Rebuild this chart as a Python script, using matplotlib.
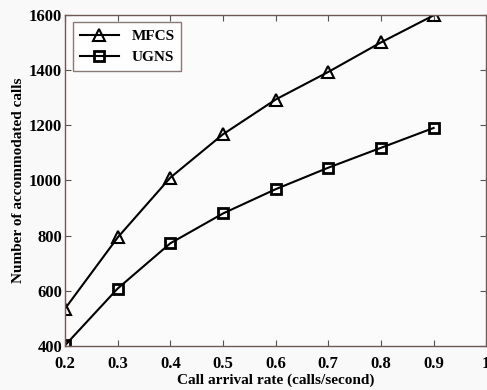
import matplotlib
matplotlib.use('Agg')
import matplotlib.pyplot as plt

# data
rate = [0.2, 0.3, 0.4, 0.5, 0.6, 0.7, 0.8, 0.9]
mfcs = [535, 793, 1010, 1167, 1293, 1393, 1500, 1598]
ugns = [402, 608, 772, 880, 968, 1046, 1118, 1190]

plt.rcParams['font.family'] = ['Liberation Serif', 'DejaVu Serif']
plt.rcParams['font.weight'] = 'bold'

fig = plt.figure(figsize=(4.87, 3.9), dpi=100)
fig.patch.set_facecolor('#f9f9f9')
ax = fig.add_axes([0.1335, 0.113, 0.865, 0.849])
ax.set_facecolor('#fbfbfb')

ax.plot(rate, mfcs, color='k', lw=1.5, marker='^', markersize=9,
        markerfacecolor='none', markeredgewidth=1.5, label='MFCS')
ax.plot(rate, ugns, color='k', lw=1.5, marker='s', markersize=7,
        markerfacecolor='none', markeredgewidth=2, label='UGNS')

ax.set_xlim(0.2, 1)
ax.set_ylim(400, 1600)
ax.set_xticks([0.2, 0.3, 0.4, 0.5, 0.6, 0.7, 0.8, 0.9, 1])
ax.set_xticklabels(['0.2', '0.3', '0.4', '0.5', '0.6', '0.7', '0.8', '0.9', '1'])
ax.set_yticks([400, 600, 800, 1000, 1200, 1400, 1600])
ax.tick_params(direction='in', top=True, right=True, labelsize=12, length=4, color='#555555')
ax.tick_params(axis='x', pad=7)
ax.tick_params(axis='y', pad=2)
for s in ax.spines.values():
    s.set_color('#6b5a55')
    s.set_linewidth(1)

ax.set_xlabel('Call arrival rate (calls/second)', fontsize=11, fontweight='bold', labelpad=1)
ax.set_ylabel('Number of accommodated calls', fontsize=11, fontweight='bold', labelpad=3)

leg = ax.legend(loc='upper left', fontsize=11, fancybox=False, edgecolor='#6b5a55',
                handlelength=2.6, borderpad=0.45, labelspacing=0.5)
leg.get_frame().set_linewidth(1)

fig.savefig('out.png', dpi=100, facecolor=fig.get_facecolor())
